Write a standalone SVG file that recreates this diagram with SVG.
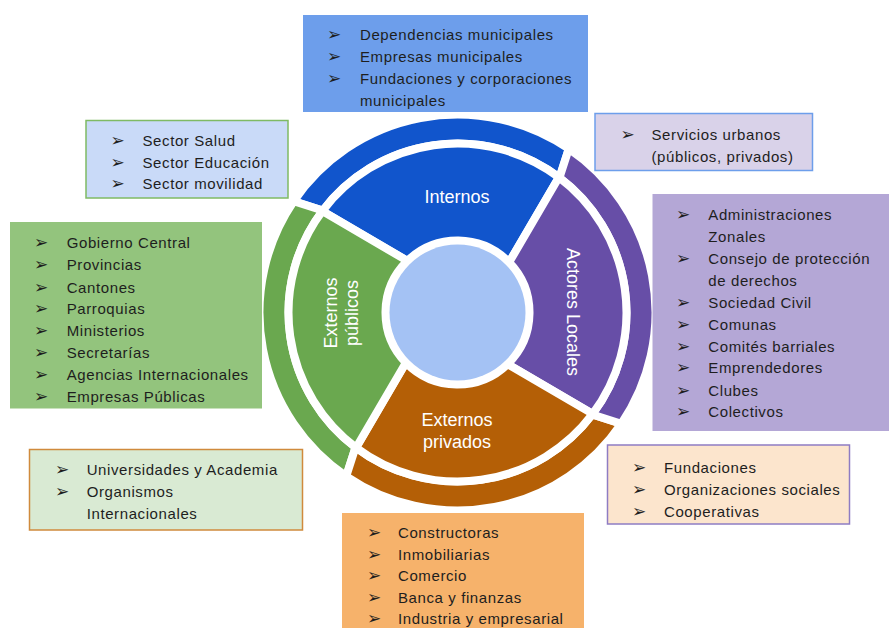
<svg xmlns="http://www.w3.org/2000/svg" width="889" height="628" viewBox="0 0 889 628">
<style>
.t{font-family:"Liberation Sans",Arial,sans-serif;font-size:15px;letter-spacing:0.6px;fill:#1e1e1e}
.b{font-family:"DejaVu Sans",sans-serif;font-size:17px;fill:#1e1e1e}
.lbl{font-family:"Liberation Sans",Arial,sans-serif;font-size:18px;fill:#ffffff;text-anchor:middle}
.seg{stroke:#ffffff;stroke-width:8}
.blue{fill:#1155cc}.green{fill:#6aa84f}.purple{fill:#674ea7}.orange{fill:#b45f06}
</style>
<rect width="889" height="628" fill="#ffffff"/>
<g id="wheel">
  <g id="rings">
    <path class="seg blue" d="M559.44,177.71 A169,169 0 0 0 322.71,210.56 L293.73,201.20 A198,198 0 0 1 568.80,148.73 Z"/>
    <path class="seg green" d="M322.71,210.56 A169,169 0 0 0 355.56,447.29 L346.20,476.27 A198,198 0 0 1 293.73,201.20 Z"/>
    <path class="seg orange" d="M355.56,447.29 A169,169 0 0 0 592.29,414.44 L621.27,423.80 A198,198 0 0 1 346.20,476.27 Z"/>
    <path class="seg purple" d="M592.29,414.44 A169,169 0 0 0 559.44,177.71 L568.80,148.73 A198,198 0 0 1 621.27,423.80 Z"/>
  </g>
  <g id="internos">
    <path class="seg blue" d="M509.15,262.33 L558.90,177.32 A169,169 0 0 0 322.32,211.10 L407.33,260.85 A72,72 0 0 1 509.15,262.33 Z"/>
    <text class="lbl" x="457" y="203">Internos</text>
  </g>
  <g id="actores-locales">
    <path class="seg purple" d="M507.67,364.15 L592.68,413.90 A169,169 0 0 0 558.90,177.32 L509.15,262.33 A72,72 0 0 1 507.67,364.15 Z"/>
    <text class="lbl" transform="translate(567,312) rotate(90)" x="0" y="0">Actores Locales</text>
  </g>
  <g id="externos-privados">
    <path class="seg orange" d="M405.85,362.67 L356.10,447.68 A169,169 0 0 0 592.68,413.90 L507.67,364.15 A72,72 0 0 1 405.85,362.67 Z"/>
    <text class="lbl" x="457" y="426">Externos</text>
    <text class="lbl" x="457" y="448">privados</text>
  </g>
  <g id="externos-publicos">
    <path class="seg green" d="M407.33,260.85 L322.32,211.10 A169,169 0 0 0 356.10,447.68 L405.85,362.67 A72,72 0 0 1 407.33,260.85 Z"/>
    <text class="lbl" transform="translate(337,313) rotate(-90)" x="0" y="0">Externos</text>
    <text class="lbl" transform="translate(337,313) rotate(-90)" x="0" y="21">públicos</text>
  </g>
  <circle id="centro" cx="457.5" cy="312.5" r="68" fill="#a4c2f4"/>
</g>

<g id="box-internos">
  <rect x="303" y="15" width="285" height="97" fill="#6d9eeb"/>
  <text class="b" x="327" y="40">➢</text><text class="t" x="360" y="40">Dependencias municipales</text>
  <text class="b" x="327" y="62">➢</text><text class="t" x="360" y="62">Empresas municipales</text>
  <text class="b" x="327" y="84">➢</text><text class="t" x="360" y="84">Fundaciones y corporaciones</text>
  <text class="t" x="360" y="106">municipales</text>
</g>

<g id="box-sectores">
  <rect x="86" y="120.5" width="202" height="77.5" fill="#c9daf8" stroke="#7fba64" stroke-width="1.5"/>
  <text class="b" x="110.5" y="146">➢</text><text class="t" x="142.5" y="146">Sector Salud</text>
  <text class="b" x="110.5" y="167.5">➢</text><text class="t" x="142.5" y="167.5">Sector Educación</text>
  <text class="b" x="110.5" y="189">➢</text><text class="t" x="142.5" y="189">Sector movilidad</text>
</g>

<g id="box-servicios">
  <rect x="595" y="113.5" width="217.5" height="57" fill="#d9d2e9" stroke="#6d9eeb" stroke-width="1.5"/>
  <text class="b" x="620.5" y="140">➢</text><text class="t" x="651.5" y="140">Servicios urbanos</text>
  <text class="t" x="651.5" y="161.7">(públicos, privados)</text>
</g>

<g id="box-actores">
  <rect x="652.5" y="194" width="240" height="237" fill="#b4a7d6"/>
  <text class="b" x="676" y="220">➢</text><text class="t" x="708.3" y="220">Administraciones</text>
  <text class="t" x="708.3" y="241.7">Zonales</text>
  <text class="b" x="676" y="264">➢</text><text class="t" x="708.3" y="264">Consejo de protección</text>
  <text class="t" x="708.3" y="285.7">de derechos</text>
  <text class="b" x="676" y="307.7">➢</text><text class="t" x="708.3" y="307.7">Sociedad Civil</text>
  <text class="b" x="676" y="330">➢</text><text class="t" x="708.3" y="330">Comunas</text>
  <text class="b" x="676" y="351.7">➢</text><text class="t" x="708.3" y="351.7">Comités barriales</text>
  <text class="b" x="676" y="373.3">➢</text><text class="t" x="708.3" y="373.3">Emprendedores</text>
  <text class="b" x="676" y="395.7">➢</text><text class="t" x="708.3" y="395.7">Clubes</text>
  <text class="b" x="676" y="417.3">➢</text><text class="t" x="708.3" y="417.3">Colectivos</text>
</g>

<g id="box-publicos">
  <rect x="10" y="222" width="252" height="186.5" fill="#93c47d"/>
  <text class="b" x="34" y="248.3">➢</text><text class="t" x="66.7" y="248.3">Gobierno Central</text>
  <text class="b" x="34" y="270.3">➢</text><text class="t" x="66.7" y="270.3">Provincias</text>
  <text class="b" x="34" y="292.7">➢</text><text class="t" x="66.7" y="292.7">Cantones</text>
  <text class="b" x="34" y="314">➢</text><text class="t" x="66.7" y="314">Parroquias</text>
  <text class="b" x="34" y="336">➢</text><text class="t" x="66.7" y="336">Ministerios</text>
  <text class="b" x="34" y="357.7">➢</text><text class="t" x="66.7" y="357.7">Secretarías</text>
  <text class="b" x="34" y="380">➢</text><text class="t" x="66.7" y="380">Agencias Internacionales</text>
  <text class="b" x="34" y="401.7">➢</text><text class="t" x="66.7" y="401.7">Empresas Públicas</text>
</g>

<g id="box-academia">
  <rect x="29.5" y="449.5" width="273" height="80.5" fill="#d9ead3" stroke="#d08a3c" stroke-width="1.5"/>
  <text class="b" x="55" y="475">➢</text><text class="t" x="86.7" y="475">Universidades y Academia</text>
  <text class="b" x="55" y="497.3">➢</text><text class="t" x="86.7" y="497.3">Organismos</text>
  <text class="t" x="86.7" y="519.3">Internacionales</text>
</g>

<g id="box-sociales">
  <rect x="607.5" y="445" width="242" height="79" fill="#fce5cd" stroke="#8e7cc3" stroke-width="1.5"/>
  <text class="b" x="632" y="472.7">➢</text><text class="t" x="664" y="472.7">Fundaciones</text>
  <text class="b" x="632" y="495">➢</text><text class="t" x="664" y="495">Organizaciones sociales</text>
  <text class="b" x="632" y="517">➢</text><text class="t" x="664" y="517">Cooperativas</text>
</g>

<g id="box-privados">
  <rect x="342" y="513" width="242" height="120" fill="#f6b26b"/>
  <text class="b" x="367" y="538">➢</text><text class="t" x="398" y="538">Constructoras</text>
  <text class="b" x="367" y="559.5">➢</text><text class="t" x="398" y="559.5">Inmobiliarias</text>
  <text class="b" x="367" y="581">➢</text><text class="t" x="398" y="581">Comercio</text>
  <text class="b" x="367" y="602.5">➢</text><text class="t" x="398" y="602.5">Banca y finanzas</text>
  <text class="b" x="367" y="624">➢</text><text class="t" x="398" y="624">Industria y empresarial</text>
</g>
</svg>
